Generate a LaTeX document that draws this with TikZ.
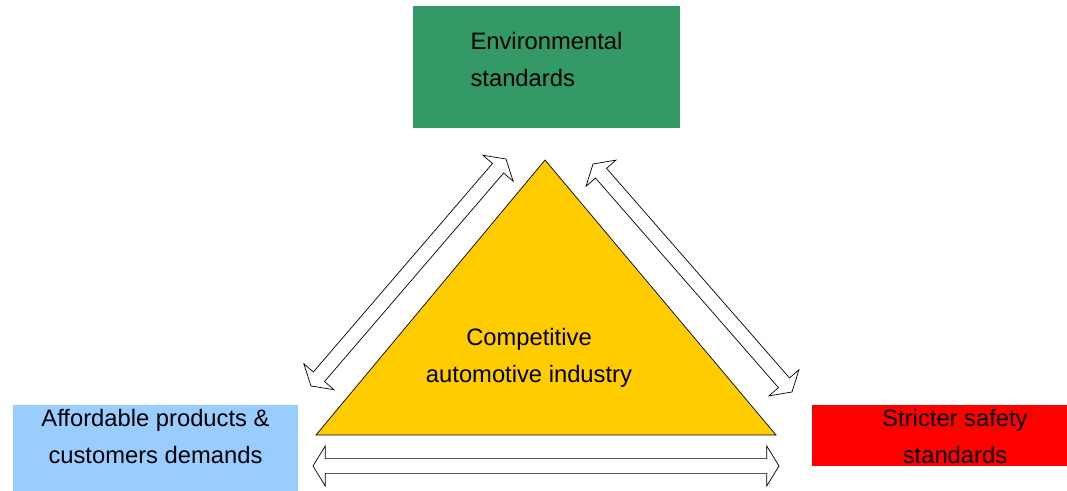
\documentclass[tikz,border=0pt]{standalone}
\usepackage{fontspec}
\setmainfont{Liberation Sans}
\usetikzlibrary{calc,shapes.arrows}
\definecolor{envgreen}{HTML}{339966}
\definecolor{custblue}{HTML}{99CCFF}
\definecolor{safered}{HTML}{FF0000}
\definecolor{indyellow}{HTML}{FFCC00}
\tikzset{box/.style = {rectangle, inner sep=0pt},
         fat/.style = {draw, fill=white, line width=0.5pt, double arrow, inner xsep=0pt, inner ysep=0.175cm,
                       double arrow head extend=0.3125cm, double arrow tip angle=117},
         lbl/.style = {font=\fontsize{16.9}{26.3}\selectfont, align=center, inner sep=0pt}}
\begin{document}
\begin{tikzpicture}[x=0.025cm,y=-0.025cm]
        \useasboundingbox (0,0) rectangle (1067,491);

        \node[box, fill=envgreen, minimum width=6.675cm, minimum height=3.05cm] (env) at (546.5,67) {};
        \node[box, fill=custblue, minimum width=7.125cm, minimum height=2.15cm] (cust) at (155.5,448) {};
        \node[box, fill=safered, minimum width=6.375cm, minimum height=1.525cm] (safe) at (939.5,435.5) {};

        \coordinate (top) at (545,160);
        \coordinate (bl) at (316,435);
        \coordinate (br) at (776,435);
        \draw[fill=indyellow, line width=0.5pt] (top) -- (bl) -- (br) -- cycle;

        \node[lbl, align=left] (envtxt) at (546.5,60) {Environmental\\standards};
        \node[lbl] (indtxt) at (529,357.5) {Competitive\\automotive industry};
        \node[lbl] (custtxt) at (155.5,436.5) {Affordable products \&\\customers demands};
        \node[lbl] (safetxt) at (955,436.5) {Stricter safety\\standards};

        % arrow ends
        \coordinate (l1) at (311,386);
        \coordinate (l2) at (506,159);
        \coordinate (r1) at (593,164);
        \coordinate (r2) at (792,392);
        \coordinate (b1) at (313,466);
        \coordinate (b2) at (779,466);
        \foreach \a/\b in {l1/l2, r1/r2, b1/b2}
            \path let \p1 = ($(\b)-(\a)$) in
                node[fat, rotate={atan2(\y1,\x1)}, minimum height={veclen(\x1,\y1)}] at ($(\a)!0.5!(\b)$) {};
\end{tikzpicture}
\end{document}
